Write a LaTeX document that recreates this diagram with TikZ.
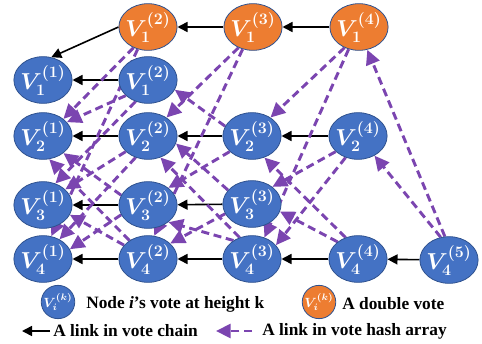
\documentclass[tikz,border=0pt]{standalone}
\usepackage{fontspec}
\setmainfont{Liberation Serif}
\usepackage{amsmath}
\usetikzlibrary{shapes.geometric,arrows.meta}
\definecolor{vblue}{HTML}{4472C4}
\definecolor{vorange}{HTML}{ED7D31}
\definecolor{vedge}{HTML}{2F528F}
\definecolor{vpurple}{HTML}{7B45B0}
\newcommand{\vlab}[2]{$\boldsymbol{V_{#1}^{(#2)}}$}
\pgfdeclarelayer{bg}
\pgfsetlayers{bg,main}
\tikzset{
  vote/.style={ellipse, draw=vedge, line width=0.6pt, fill=vblue, minimum width=42pt, minimum height=35pt, inner sep=-1.5pt, text=white, font=\fontsize{18}{20}\selectfont},
  dbl/.style={vote, fill=vorange},
  chain/.style={-{Triangle[length=7.5pt,width=7.5pt]}, line width=1.2pt, black},
  hash/.style={-{Triangle[length=11pt,width=10.5pt]}, line width=2.2pt, vpurple, dash pattern=on 6pt off 3.5pt},
  lgtext/.style={anchor=west, font=\bfseries\fontsize{13}{15}\selectfont, inner sep=0pt},
  lgvote/.style={vote, minimum width=25pt, minimum height=25pt, inner sep=-2pt, font=\normalsize}
}
\begin{document}
\begin{tikzpicture}[x=0.75pt,y=-0.75pt]
\useasboundingbox (0,0) rectangle (482,343);
% nodes
\node[dbl] (o12) at (148,27) {\vlab{1}{2}};
\node[dbl] (o13) at (253,27) {\vlab{1}{3}};
\node[dbl] (o14) at (359,27) {\vlab{1}{4}};
\node[vote] (v11) at (43,80) {\vlab{1}{1}};
\node[vote] (v12) at (148,80) {\vlab{1}{2}};
\node[vote] (v21) at (43,136) {\vlab{2}{1}};
\node[vote] (v22) at (148,136) {\vlab{2}{2}};
\node[vote] (v23) at (252,136) {\vlab{2}{3}};
\node[vote] (v24) at (358,136) {\vlab{2}{4}};
\node[vote] (v31) at (43,205) {\vlab{3}{1}};
\node[vote] (v32) at (148,205) {\vlab{3}{2}};
\node[vote] (v33) at (252,204) {\vlab{3}{3}};
\node[vote] (v41) at (43,259) {\vlab{4}{1}};
\node[vote] (v42) at (148,259) {\vlab{4}{2}};
\node[vote] (v43) at (252,259) {\vlab{4}{3}};
\node[vote] (v44) at (358,259) {\vlab{4}{4}};
\node[vote] (v45) at (449,260) {\vlab{4}{5}};
\begin{pgfonlayer}{bg}
% vote chains
\draw[chain] (o12.west) -- (v11.70);
\draw[chain] (o13) -- (o12);
\draw[chain] (o14) -- (o13);
\draw[chain] (v12) -- (v11);
\draw[chain] (v22) -- (v21);
\draw[chain] (v23) -- (v22);
\draw[chain] (v24) -- (v23);
\draw[chain] (v32) -- (v31);
\draw[chain] (v33) -- (v32);
\draw[chain] (v42) -- (v41);
\draw[chain] (v43) -- (v42);
\draw[chain] (v44) -- (v43);
\draw[chain] (v45) -- (v44);
% hash arrays, height 5
\draw[hash] (v45.100) -- (o14.290);
\draw[hash] (v45.110) -- (v24.310);
% height 4
\draw[hash] (o14.235) -- (v23.45);
\draw[hash] (o14.245) -- (v43.60);
\draw[hash] (v24.215) -- (v33.40);
\draw[hash] (v24.240) -- (v43.30);
\draw[hash] (v44.120) -- (v23.300);
\draw[hash] (v44.140) -- (v33.345);
% height 3
\draw[hash] (o13.235) -- (v22.45);
\draw[hash] (o13.245) -- (v42.75);
\draw[hash] (v23.160) -- (v12.340);
\draw[hash] (v23.215) -- (v32.40);
\draw[hash] (v33.150) -- (v22.345);
\draw[hash] (v33.200) -- (v42.35);
\draw[hash] (v43.135) -- (v32.320);
\draw[hash] (v43.120) -- (v22.300);
% height 2
\draw[hash] (o12.235) -- (v21.40);
\draw[hash] (o12.245) -- (v41.70);
\draw[hash] (v12.215) -- (v21.30);
\draw[hash] (v12.240) -- (v31.60);
\draw[hash] (v22.215) -- (v31.35);
\draw[hash] (v22.240) -- (v41.50);
\draw[hash] (v32.160) -- (v21.320);
\draw[hash] (v32.200) -- (v41.20);
\draw[hash] (v42.135) -- (v21.285);
\draw[hash] (v42.150) -- (v31.340);
\end{pgfonlayer}
% legend
\node[lgvote] (lb) at (58,302) {$\boldsymbol{V_i^{(k)}}$};
\node[lgtext] (lbt) at (86,304) {Node \textit{i}’s vote at height k};
\node[lgvote, fill=vorange] (lo) at (319,302) {$\boldsymbol{V_i^{(k)}}$};
\node[lgtext] (lot) at (342,304) {A double vote};
\coordinate (c1) at (50,331);
\coordinate (c2) at (22,331);
\draw[chain] (c1) -- (c2);
\node[lgtext] (ct) at (53,331) {A link in vote chain};
\coordinate (h1) at (252,331);
\coordinate (h2) at (216,331);
\draw[hash] (h1) -- (h2);
\node[lgtext] (ht) at (262,331) {A link in vote hash array};
\end{tikzpicture}
\end{document}
